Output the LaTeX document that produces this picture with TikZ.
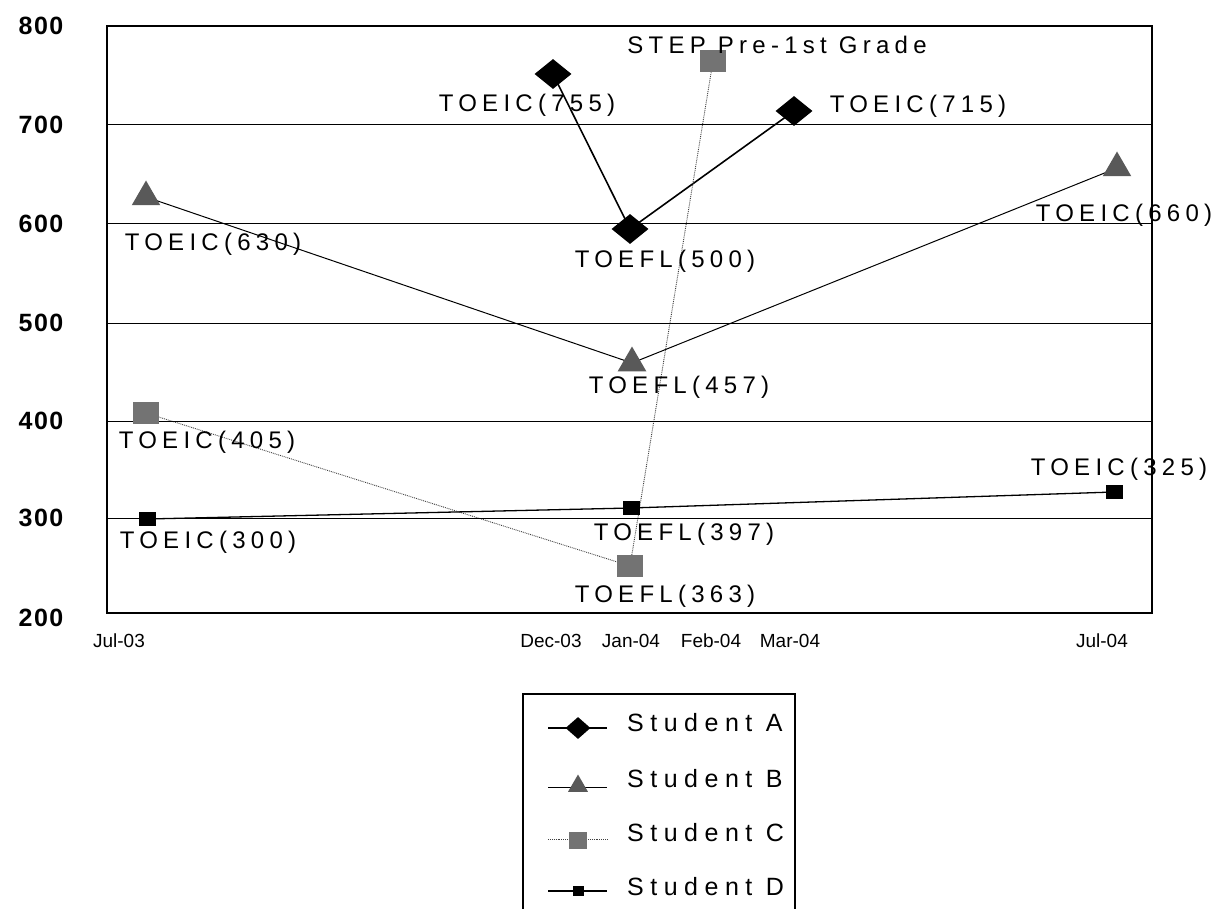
\documentclass[tikz,border=0pt]{standalone}
\usepackage{fontspec}
\setmainfont{Liberation Sans}
\newfontfamily\lblfont[LetterSpace=22]{Liberation Sans}
\newfontfamily\legfont[LetterSpace=26]{Liberation Sans}
\newfontfamily\yaxfont[LetterSpace=6]{Liberation Sans}
\usetikzlibrary{shapes.geometric,backgrounds}
\begin{document}
\begin{tikzpicture}[x=1pt,y=-1pt,
  dmark/.style={diamond, fill=black, inner sep=0pt, minimum width=37pt, minimum height=30pt},
  tmark/.style={regular polygon, regular polygon sides=3, fill=black!65, inner sep=0pt, minimum size=33pt},
  cmark/.style={rectangle, fill=black!55, inner sep=0pt, minimum width=26pt, minimum height=22pt},
  smark/.style={rectangle, fill=black, inner sep=0pt, minimum width=17pt, minimum height=14pt},
  lbl/.style={font=\lblfont\fontsize{24}{28}\selectfont, inner sep=0pt, anchor=base},
  ylab/.style={font=\yaxfont\bfseries\fontsize{25}{28}\selectfont, inner sep=0pt},
  xlab/.style={font=\fontsize{19}{22}\selectfont, inner sep=0pt, anchor=base},
  legtext/.style={font=\legfont\fontsize{25}{28}\selectfont, inner sep=0pt, anchor=west},
  grid/.style={line width=1pt},
  frame/.style={line width=1.4pt},
  lineA/.style={line width=1.6pt},
  lineB/.style={line width=1pt},
  lineC/.style={line width=0.9pt, black!75, densely dotted},
  lineD/.style={line width=1.3pt}
]
\useasboundingbox (0,0) rectangle (1223,909);

% plot frame and grid
\coordinate (fTL) at (107,26);
\coordinate (fBR) at (1152,613);
\draw[frame] (fTL) rectangle (fBR);
\foreach \yy in {125,224,323,421,518}{
  \draw[grid] (107,\yy) -- (1152,\yy);
}

% y axis labels
\node[ylab] (y800) at (41,26) {800};
\node[ylab] (y700) at (41,125) {700};
\node[ylab] (y600) at (41,224) {600};
\node[ylab] (y500) at (41,323) {500};
\node[ylab] (y400) at (41,421) {400};
\node[ylab] (y300) at (41,518) {300};
\node[ylab] (y200) at (41,618) {200};

% x axis labels
\node[xlab] (xJul03) at (119,647) {Jul-03};
\node[xlab] (xDec03) at (551,647) {Dec-03};
\node[xlab] (xJan04) at (631,647) {Jan-04};
\node[xlab] (xFeb04) at (711,647) {Feb-04};
\node[xlab] (xMar04) at (790,647) {Mar-04};
\node[xlab] (xJul04) at (1102,647) {Jul-04};

% data markers
\node[dmark] (A1) at (553,74) {};
\node[dmark] (A2) at (630,229) {};
\node[dmark] (A3) at (794,111) {};
\node[tmark] (B1) at (146,197) {};
\node[tmark] (B2) at (632,363) {};
\node[tmark] (B3) at (1117,168) {};
\node[cmark] (C1) at (146,413) {};
\node[cmark] (C2) at (630,566) {};
\node[cmark] (C3) at (713,61) {};
\node[smark] (D1) at (147,519) {};
\node[smark] (D2) at (631,508) {};
\node[smark] (D3) at (1114,492) {};

\begin{pgfonlayer}{background}
\draw[lineA] (A1.center) -- (A2.center) -- (A3.center);
\draw[lineB] (B1.center) -- (B2.center) -- (B3.center);
\draw[lineC] (C1.center) -- (C2.center) -- (C3.center);
\draw[lineD] (D1.center) -- (D2.center) -- (D3.center);
\end{pgfonlayer}

% data labels
\node[lbl] (lA1) at (527,112) {TOEIC(755)};
\node[lbl] (lA2) at (665,268) {TOEFL(500)};
\node[lbl] (lA3) at (918,113) {TOEIC(715)};
\node[lbl] (lB1) at (213,251) {TOEIC(630)};
\node[lbl] (lB2) at (679,393) {TOEFL(457)};
\node[lbl] (lB3) at (1124,222) {TOEIC(660)};
\node[lbl] (lC1) at (207,448) {TOEIC(405)};
\node[lbl] (lC2) at (665,602) {TOEFL(363)};
\node[lbl] (lC3) at (777,54) {STEP Pre-1st Grade};
\node[lbl] (lD1) at (208,548) {TOEIC(300)};
\node[lbl] (lD2) at (684,540) {TOEFL(397)};
\node[lbl] (lD3) at (1119,475) {TOEIC(325)};

% legend
\draw[line width=1.2pt] (523,915) -- (523,694) -- (795,694) -- (795,915);
\coordinate (LA0) at (548,728); \coordinate (LA1) at (607,728);
\coordinate (LB0) at (548,787); \coordinate (LB1) at (607,787);
\coordinate (LC0) at (548,839); \coordinate (LC1) at (607,839);
\coordinate (LD0) at (548,891); \coordinate (LD1) at (607,891);
\draw[lineA] (LA0) -- (LA1);
\draw[lineB] (LB0) -- (LB1);
\draw[lineC] (LC0) -- (LC1);
\draw[lineD] (LD0) -- (LD1);
\node[dmark, minimum width=25pt, minimum height=22pt] (mA) at (578,728) {};
\node[tmark, minimum size=23pt] (mB) at (578,786) {};
\node[cmark, minimum width=18pt, minimum height=17pt] (mC) at (578,840) {};
\node[smark, minimum width=11pt, minimum height=10pt] (mD) at (578,891) {};
\node[legtext] (tA) at (627,723) {Student A};
\node[legtext] (tB) at (627,779) {Student B};
\node[legtext] (tC) at (627,833) {Student C};
\node[legtext] (tD) at (627,887) {Student D};
\end{tikzpicture}
\end{document}
